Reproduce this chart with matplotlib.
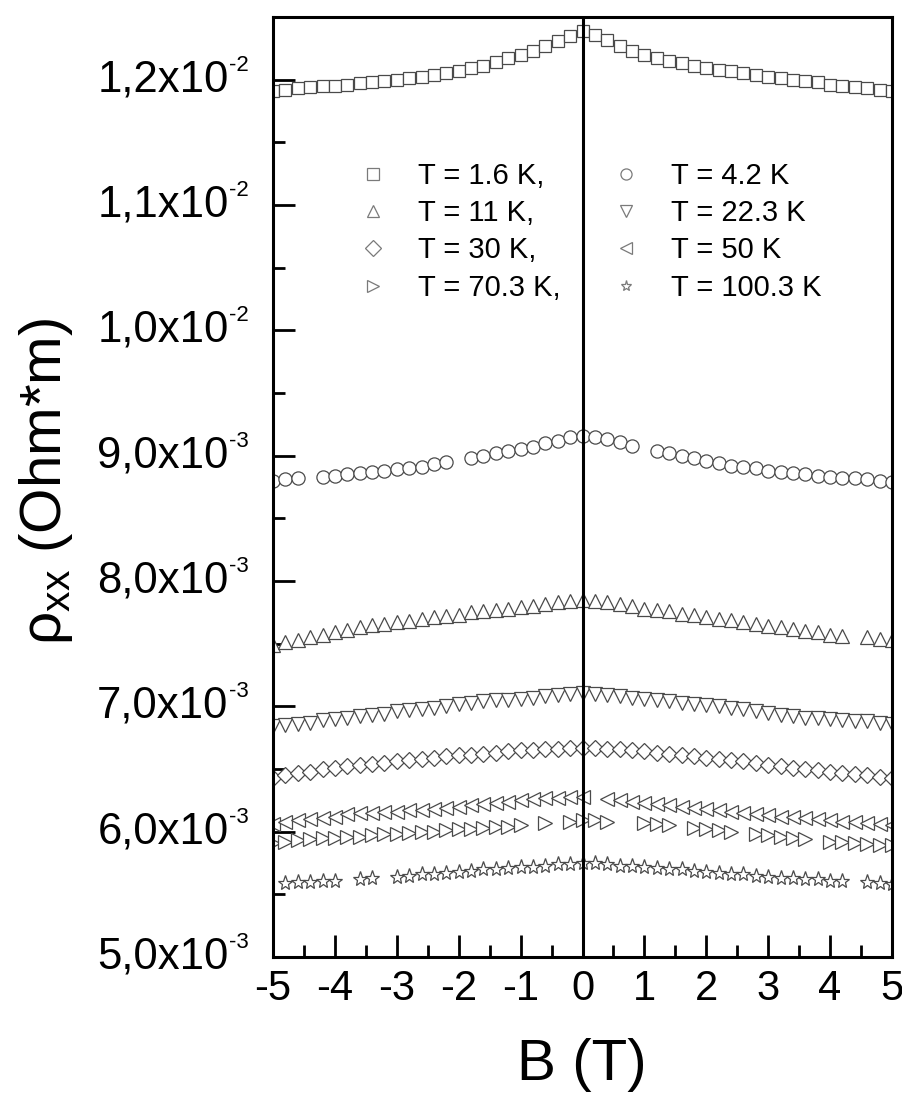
import matplotlib
matplotlib.use('Agg')
import matplotlib.pyplot as plt
import numpy as np
from matplotlib.ticker import MultipleLocator

plt.rcParams['font.family'] = ['Liberation Sans', 'DejaVu Sans']
plt.rcParams['mathtext.default'] = 'regular'

nan = np.nan

# Magnetic field (T)
B = [-5.0, -4.8, -4.6, -4.4, -4.2, -4.0, -3.8, -3.6, -3.4, -3.2,
     -3.0, -2.8, -2.6, -2.4, -2.2, -2.0, -1.8, -1.6, -1.4, -1.2,
     -1.0, -0.8, -0.6, -0.4, -0.2, 0.0, 0.2, 0.4, 0.6, 0.8,
     1.0, 1.2, 1.4, 1.6, 1.8, 2.0, 2.2, 2.4, 2.6, 2.8,
     3.0, 3.2, 3.4, 3.6, 3.8, 4.0, 4.2, 4.4, 4.6, 4.8, 5.0]

# rho_xx in units of 1e-3 Ohm*m
rho_1p6 = [11.91, 11.92, 11.93, 11.94, 11.95, 11.95, 11.96, 11.97, 11.98, 11.99,
           12.00, 12.01, 12.02, 12.04, 12.05, 12.07, 12.09, 12.11, 12.14, 12.17,
           12.20, 12.23, 12.27, 12.31, 12.35, 12.39, 12.36, 12.32, 12.27, 12.23,
           12.20, 12.17, 12.15, 12.13, 12.11, 12.09, 12.08, 12.07, 12.05, 12.04,
           12.02, 12.01, 12.00, 11.99, 11.98, 11.96, 11.95, 11.94, 11.93, 11.92, 11.91]
rho_4p2 = [8.80, 8.81, 8.82, nan, 8.83, 8.84, 8.85, 8.86, 8.87, 8.88,
           8.89, 8.90, 8.91, 8.93, 8.95, nan, 8.98, 9.00, 9.02, 9.04,
           9.05, 9.07, 9.10, 9.12, 9.15, 9.16, 9.15, 9.13, 9.11, 9.08,
           nan, 9.04, 9.02, 9.00, 8.98, 8.96, 8.94, 8.92, 8.91, 8.90,
           8.88, 8.87, 8.86, 8.85, 8.84, 8.83, 8.82, 8.82, 8.81, 8.80, 8.79]
rho_11 = [7.49, 7.51, 7.53, 7.55, 7.57, 7.59, 7.61, 7.63, 7.65, 7.66,
          7.67, 7.68, 7.70, 7.71, 7.72, 7.73, 7.75, 7.76, 7.77, 7.78,
          7.79, 7.80, 7.82, 7.83, 7.84, 7.85, 7.84, 7.83, 7.82, 7.80,
          7.78, 7.77, 7.76, 7.74, 7.73, 7.71, 7.70, 7.69, 7.67, 7.66,
          7.64, 7.63, 7.62, 7.60, 7.59, 7.57, 7.56, nan, 7.55, 7.54, 7.53]
rho_22p3 = [6.84, 6.85, 6.86, 6.87, 6.89, 6.90, 6.91, 6.92, 6.93, 6.94,
            6.96, 6.97, 6.98, 6.99, 7.00, 7.02, 7.03, 7.04, 7.05, 7.05,
            7.06, 7.07, 7.08, 7.09, 7.10, 7.11, 7.10, 7.09, 7.08, 7.07,
            7.06, 7.05, 7.04, 7.03, 7.02, 7.01, 7.00, 6.99, 6.98, 6.96,
            6.95, 6.93, 6.92, 6.91, 6.91, 6.90, 6.89, 6.88, 6.88, 6.87, 6.86]
rho_30 = [6.43, 6.45, 6.47, 6.48, 6.50, 6.51, 6.52, 6.53, 6.54, 6.55,
          6.56, 6.57, 6.58, 6.59, 6.60, 6.61, 6.61, 6.62, 6.63, 6.64,
          6.65, 6.65, 6.66, 6.66, 6.67, 6.67, 6.67, 6.66, 6.66, 6.65,
          6.64, 6.63, 6.62, 6.61, 6.60, 6.59, 6.58, 6.57, 6.56, 6.55,
          6.53, 6.52, 6.51, 6.50, 6.49, 6.48, 6.47, 6.46, 6.45, 6.44, 6.43]
rho_50 = [6.06, 6.08, 6.09, 6.10, 6.11, 6.12, 6.14, 6.15, 6.15, 6.16,
          6.16, 6.17, 6.17, 6.18, 6.19, 6.20, 6.21, 6.22, 6.23, 6.24,
          6.25, 6.26, 6.27, 6.27, 6.28, 6.28, nan, 6.26, 6.25, 6.24,
          6.23, 6.22, 6.21, 6.20, 6.19, 6.18, 6.17, 6.16, 6.15, 6.14,
          6.13, 6.12, 6.12, 6.11, 6.10, 6.09, 6.08, 6.08, 6.07, 6.06, 6.05]
rho_70p3 = [5.91, 5.92, 5.93, 5.94, 5.95, 5.95, 5.96, 5.96, 5.97, 5.98,
            5.98, 5.99, 6.00, 6.00, 6.01, 6.02, 6.02, 6.03, 6.04, 6.04,
            6.05, nan, 6.07, nan, 6.08, 6.09, 6.09, 6.08, nan, nan,
            6.07, 6.06, 6.05, nan, 6.03, 6.02, 6.01, 6.00, nan, 5.98,
            5.97, 5.96, 5.95, 5.94, nan, 5.92, 5.92, 5.91, 5.90, 5.89, 5.89]
rho_100p3 = [nan, 5.59, 5.60, 5.60, 5.61, 5.61, nan, 5.62, 5.63, nan,
             5.64, 5.65, 5.66, 5.66, 5.67, 5.68, 5.69, 5.70, 5.70, 5.71,
             5.72, 5.72, 5.73, 5.74, 5.74, 5.75, 5.75, 5.74, 5.73, 5.73,
             5.72, 5.71, 5.70, 5.70, 5.69, 5.68, 5.67, 5.66, 5.66, 5.65,
             5.64, 5.63, 5.63, 5.62, 5.62, 5.61, 5.61, nan, 5.60, 5.59, 5.58]

labels = ['T = 1.6 K,', 'T = 4.2 K', 'T = 11 K,', 'T = 22.3 K',
          'T = 30 K,', 'T = 50 K', 'T = 70.3 K,', 'T = 100.3 K']
series = [rho_1p6, rho_4p2, rho_11, rho_22p3, rho_30, rho_50, rho_70p3, rho_100p3]
markers = ['s', 'o', '^', 'v', 'D', '<', '>', '*']
msizes = [8.5, 9.5, 9.5, 9.5, 8.0, 9.5, 9.5, 11.0]

ytick_vals = [5e-3, 6e-3, 7e-3, 8e-3, 9e-3, 1.0e-2, 1.1e-2, 1.2e-2]
ytick_mant = ['5,0', '6,0', '7,0', '8,0', '9,0', '1,0', '1,1', '1,2']
ytick_exp = ['-3', '-3', '-3', '-3', '-3', '-2', '-2', '-2']
xtick_vals = [-5, -4, -3, -2, -1, 0, 1, 2, 3, 4, 5]

fig = plt.figure(figsize=(9.03, 11.07), dpi=100)
ax = fig.add_axes([273 / 903, 1 - 957 / 1107, 619 / 903, 940 / 1107])

handles = []
Barr = np.array(B)
for vals, m, ms, lab in zip(series, markers, msizes, labels):
    h, = ax.plot(Barr, np.array(vals) * 1e-3, linestyle='none', marker=m, ms=ms,
                 mfc='white', mec='#4a4a4a', mew=0.9, label=lab, zorder=2)
    handles.append(h)

ax.axvline(0, color='black', lw=2.2, zorder=5)

ax.set_xlim(-5, 5)
ax.set_ylim(5e-3, 12.5e-3)
ax.xaxis.set_major_locator(MultipleLocator(1))
ax.xaxis.set_minor_locator(MultipleLocator(0.5))
ax.yaxis.set_major_locator(MultipleLocator(1e-3))
ax.yaxis.set_minor_locator(MultipleLocator(0.5e-3))
ax.tick_params(which='both', direction='in', top=False, right=False, width=2.0)
ax.tick_params(which='major', length=16)
ax.tick_params(which='minor', length=8.5)
ax.tick_params(axis='y', labelleft=False)
ax.set_xticks(xtick_vals)
ax.set_xticklabels([str(v) for v in xtick_vals], fontsize=30)
ax.tick_params(axis='x', pad=9)
for sp in ax.spines.values():
    sp.set_linewidth(2.2)

for val, mant, ex in zip(ytick_vals, ytick_mant, ytick_exp):
    ax.annotate(mant + 'x10', xy=(0, val), xycoords=('axes fraction', 'data'),
                xytext=(-32, 0), textcoords='offset points',
                ha='right', va='center', fontsize=31.5, annotation_clip=False)
    ax.annotate(ex, xy=(0, val), xycoords=('axes fraction', 'data'),
                xytext=(-32, 10.5), textcoords='offset points',
                ha='left', va='center', fontsize=16, annotation_clip=False)

order = [0, 2, 4, 6, 1, 3, 5, 7]
leg = ax.legend(handles=[handles[i] for i in order], ncol=2, loc='upper left',
                bbox_to_anchor=(0.138, 0.846), frameon=False, fontsize=21,
                handlelength=1.0, handletextpad=1.04, columnspacing=1.74,
                labelspacing=0.32, borderpad=0, borderaxespad=0, numpoints=1)
for lh in leg.legend_handles:
    lh.set_markeredgecolor('#7a7a7a')
    lh.set_markersize(8)
    lh.set_markeredgewidth(0.9)

fig.text(582 / 903, 1 - 1065 / 1107, 'B (T)', fontsize=42, ha='center', va='center')
fig.text(46 / 903, 1 - 481 / 1107, 'ρ$_{xx}$ (Ohm*m)', fontsize=42, rotation=90,
         ha='center', va='center')

fig.savefig('out.png', dpi=100)
